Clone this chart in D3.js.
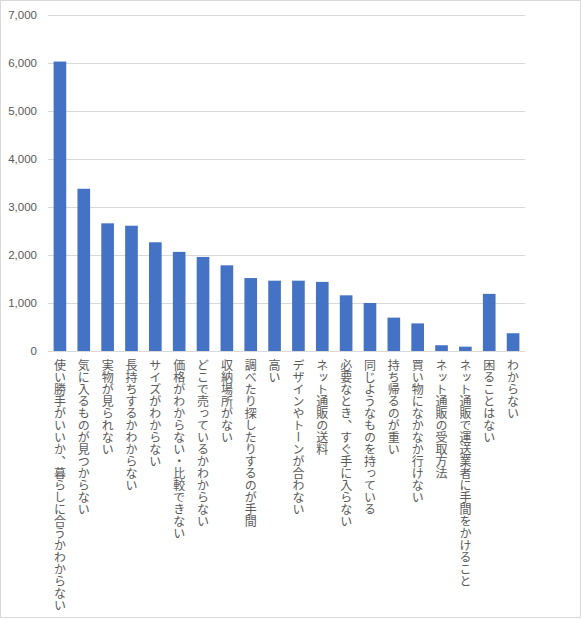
<!DOCTYPE html>
<html lang="ja">
<head>
    <meta charset="UTF-8">
    <title>困っていること</title>
    <script src="https://d3js.org/d3.v7.min.js"></script>
    <style>
        body { margin: 0; background: #fff; }
        svg { display: block; }
        .tick-label { font-family: "Liberation Sans", Arial, sans-serif; font-size: 11.5px; fill: #595959; }
        .cat-label { font-family: "Noto Sans CJK JP", sans-serif; font-size: 12px; fill: #595959; writing-mode: vertical-rl; }
    </style>
</head>
<body>
    <svg width="582" height="620"></svg>

    <script>
        const categories = [
            "使い勝手がいいか、暮らしに合うかわからない",
            "気に入るものが見つからない",
            "実物が見られない",
            "長持ちするかわからない",
            "サイズがわからない",
            "価格がわからない・比較できない",
            "どこで売っているかわからない",
            "収納場所がない",
            "調べたり探したりするのが手間",
            "高い",
            "デザインやトーンが合わない",
            "ネット通販の送料",
            "必要なとき、すぐ手に入らない",
            "同じようなものを持っている",
            "持ち帰るのが重い",
            "買い物になかなか行けない",
            "ネット通販の受取方法",
            "ネット通販で運送業者に手間をかけること",
            "困ることはない",
            "わからない"
        ];
        const values = [6030, 3380, 2660, 2610, 2265, 2065, 1960, 1785, 1520, 1465,
                        1465, 1440, 1160, 1000, 695, 575, 120, 90, 1190, 370];
        const yTicks = [0, 1000, 2000, 3000, 4000, 5000, 6000, 7000];

        const svg = d3.select("svg");
        const plotLeft = 48, plotRight = 525, plotTop = 15, plotBottom = 351;

        // chart frame
        svg.append("rect")
            .attr("x", 0.5).attr("y", 0.5)
            .attr("width", 580).attr("height", 617)
            .attr("fill", "#fff")
            .attr("stroke", "#d9d9d9");

        const x = d3.scaleBand().domain(categories).range([plotLeft, plotRight])
            .paddingInner(0.47).paddingOuter(0.235);
        const y = d3.scaleLinear().domain([0, 7000]).range([plotBottom, plotTop]);

        // gridlines
        svg.append("g").selectAll("line")
            .data(yTicks)
            .join("line")
            .attr("x1", plotLeft).attr("x2", plotRight)
            .attr("y1", d => Math.round(y(d)) + 0.5)
            .attr("y2", d => Math.round(y(d)) + 0.5)
            .attr("stroke", "#d9d9d9");

        // y tick labels
        svg.append("g").selectAll("text")
            .data(yTicks)
            .join("text")
            .attr("class", "tick-label")
            .attr("x", 37)
            .attr("y", d => y(d) + 4)
            .attr("text-anchor", "end")
            .text(d3.format(","));

        // bars
        svg.append("g").selectAll("rect")
            .data(values)
            .join("rect")
            .attr("x", (d, i) => x(categories[i]))
            .attr("y", d => y(d))
            .attr("width", x.bandwidth())
            .attr("height", d => y(0) - y(d))
            .attr("fill", "#4472C4");

        // baseline
        svg.append("line")
            .attr("x1", plotLeft).attr("x2", plotRight)
            .attr("y1", plotBottom + 0.5).attr("y2", plotBottom + 0.5)
            .attr("stroke", "#d9d9d9");

        // category labels (vertical)
        svg.append("g").selectAll("text")
            .data(categories)
            .join("text")
            .attr("class", "cat-label")
            .attr("x", d => x(d) + x.bandwidth() / 2)
            .attr("y", 359)
            .text(d => d);
    </script>
</body>
</html>
